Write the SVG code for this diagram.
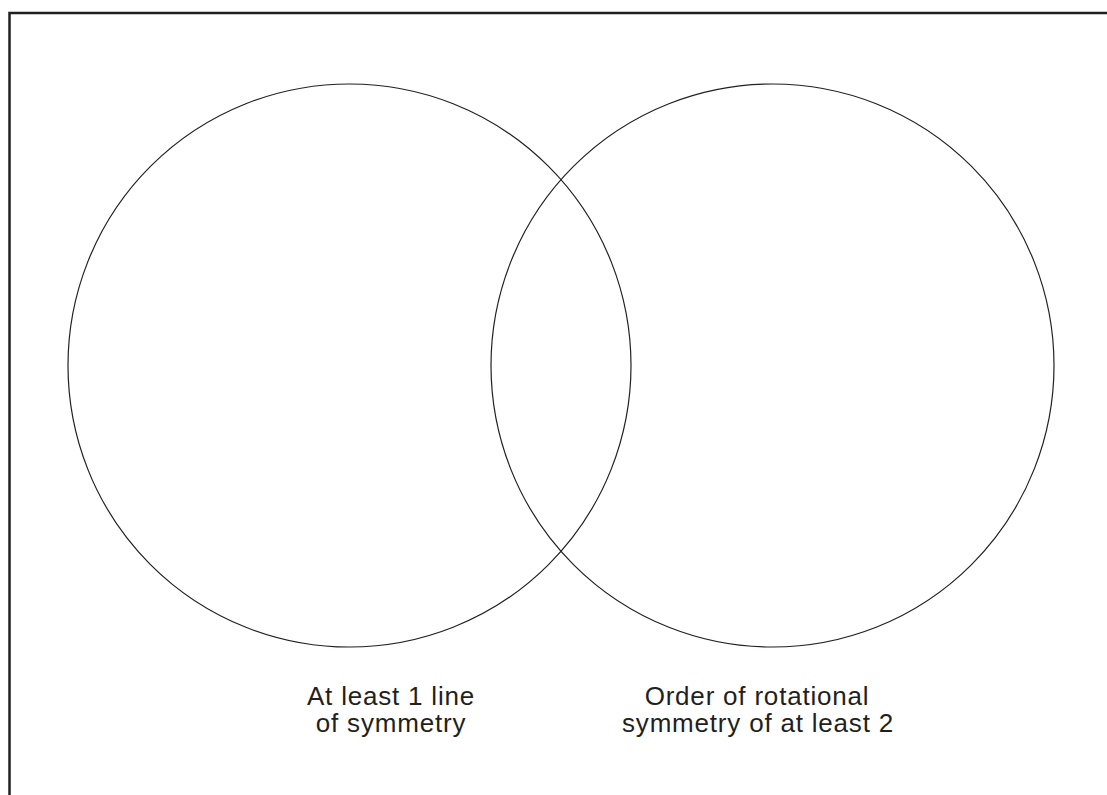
<svg xmlns="http://www.w3.org/2000/svg" width="1107" height="795" viewBox="0 0 1107 795">
<style>
.frame{fill:none;stroke:#231f20;stroke-width:2.5}
.set{fill:none;stroke:#231f20;stroke-width:1.2}
.lbl{font-family:"Liberation Sans",Arial,sans-serif;font-size:26px;fill:#231f20;text-anchor:middle;letter-spacing:0.8px}
</style>
<rect width="1107" height="795" fill="#ffffff"/>
<path class="frame" d="M9.5 795 V13 H1107"/>
<g id="setA">
<circle class="set" cx="349.5" cy="365.5" r="281.5"/>
<text class="lbl" x="391" y="705">At least 1 line</text>
<text class="lbl" x="391" y="732">of symmetry</text>
</g>
<g id="setB">
<circle class="set" cx="772.5" cy="365.5" r="281.5"/>
<text class="lbl" x="757" y="705">Order of rotational</text>
<text class="lbl" x="758" y="732">symmetry of at least 2</text>
</g>
<g id="connectors"></g>
</svg>
